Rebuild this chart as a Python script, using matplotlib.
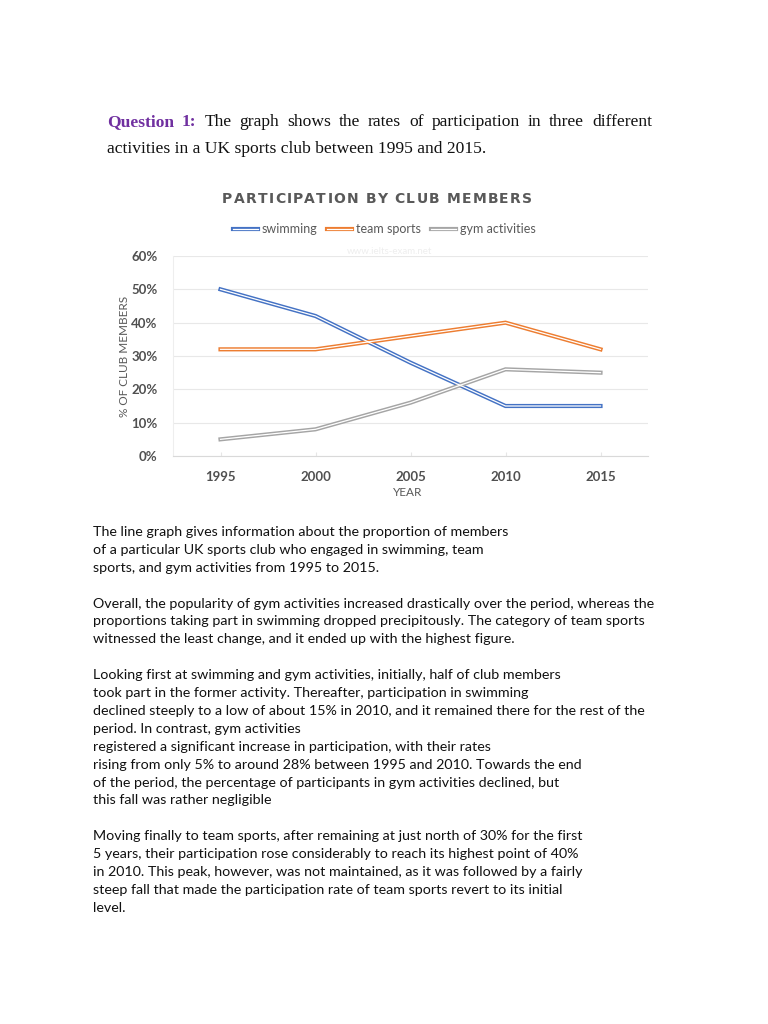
import matplotlib
matplotlib.use('Agg')
import matplotlib.pyplot as plt
from matplotlib.legend_handler import HandlerTuple

years = ['1995', '2000', '2005', '2010', '2015']
swimming = [50, 42, 28, 15, 15]
team_sports = [32, 32, 36, 40, 32]
gym_activities = [5, 8, 16, 26, 25]
y_ticks = [0, 10, 20, 30, 40, 50, 60]

title = 'PARTICIPATION BY CLUB MEMBERS'
question_line1 = 'The graph shows the rates of participation in three different'
question_line2 = 'activities in a UK sports club between 1995 and 2015.'

paragraphs = [
    ['The line graph gives information about the proportion of members',
     'of a particular UK sports club who engaged in swimming, team',
     'sports, and gym activities from 1995 to 2015.'],
    ['Overall, the popularity of gym activities increased drastically over the period, whereas the',
     'proportions taking part in swimming dropped precipitously. The category of team sports',
     'witnessed the least change, and it ended up with the highest figure.'],
    ['Looking first at swimming and gym activities, initially, half of club members',
     'took part in the former activity. Thereafter, participation in swimming',
     'declined steeply to a low of about 15% in 2010, and it remained there for the rest of the',
     'period. In contrast, gym activities',
     'registered a significant increase in participation, with their rates',
     'rising from only 5% to around 28% between 1995 and 2010. Towards the end',
     'of the period, the percentage of participants in gym activities declined, but',
     'this fall was rather negligible'],
    ['Moving finally to team sports, after remaining at just north of 30% for the first',
     '5 years, their participation rose considerably to reach its highest point of 40%',
     'in 2010. This peak, however, was not maintained, as it was followed by a fairly',
     'steep fall that made the participation rate of team sports revert to its initial',
     'level.'],
]

W, H = 768, 1024
fig = plt.figure(figsize=(W / 100, H / 100), dpi=100)
fig.patch.set_facecolor('white')


def fy(py):
    return 1 - py / H


def fx(px):
    return px / W


grey = '#595959'
renderer = fig.canvas.get_renderer()

# question heading, first line justified
serif = 'Liberation Serif'
qsize = 12.6
words = [('Question', True, '#7030A0'), ('1:', True, '#7030A0')] + \
        [(w, False, '#111111') for w in question_line1.split()]
objs = []
for w, b, c in words:
    t = fig.text(0, fy(122), w, fontsize=qsize, family=serif,
                 fontweight='bold' if b else 'normal', color=c, va='center')
    objs.append(t)
widths = [o.get_window_extent(renderer).width for o in objs]
x0, x1 = 107, 652
gap = (x1 - x0 - sum(widths)) / (len(objs) - 1)
x = x0
for o, wd in zip(objs, widths):
    o.set_x(fx(x))
    x += wd + gap
fig.text(fx(107), fy(149), question_line2, fontsize=qsize, family=serif,
         color='#111111', va='center')

# chart
ax = fig.add_axes([fx(173), fy(456), fx(648) - fx(173), (456 - 256) / H])
xs = range(len(years))
series = [(swimming, '#4472C4', 'swimming'),
          (team_sports, '#ED7D31', 'team sports'),
          (gym_activities, '#A5A5A5', 'gym activities')]
handles = []
for vals, col, name in series:
    l1, = ax.plot(xs, vals, color=col, lw=3.0, solid_joinstyle='miter', zorder=3)
    l2, = ax.plot(xs, vals, color='white', lw=0.9, solid_joinstyle='miter', zorder=4)
    handles.append((l1, l2))

ax.set_xlim(-0.5, len(years) - 0.5)
ax.set_ylim(0, 60)
ax.set_yticks(y_ticks)
ax.set_yticklabels([f'{v}%' for v in y_ticks])
ax.set_xticks(list(xs))
ax.set_xticklabels(years)
ax.grid(axis='y', color='#E8E8E8', lw=0.8)
ax.set_axisbelow(True)
for s in ['right', 'top']:
    ax.spines[s].set_visible(False)
ax.spines['left'].set_color('#EEEEEE')
ax.spines['bottom'].set_color('#D9D9D9')
ax.tick_params(axis='y', length=0, colors='#505050', pad=11)
ax.tick_params(axis='x', length=3, direction='in', color='#E6E6E6',
               labelcolor='#505050', pad=11)
for lab in ax.get_xticklabels() + ax.get_yticklabels():
    lab.set_fontweight('bold')
    lab.set_fontsize(9.5)
    lab.set_family('Lato')

# letter-spaced title
tobjs = [fig.text(0, fy(199), ch, fontsize=10, fontweight='bold', color=grey,
                  va='center', family='DejaVu Sans') for ch in title]
cw = [o.get_window_extent(renderer).width if ch != ' ' else 4.5
      for o, ch in zip(tobjs, title)]
track = (310 - sum(cw)) / (len(title) - 1)
x = 222
for o, wd in zip(tobjs, cw):
    o.set_x(fx(x))
    x += wd + track

fig.text(fx(125), fy(356), '% OF CLUB MEMBERS', rotation=90, fontsize=8.5,
         color=grey, ha='center', va='center', family='Lato')
fig.text(fx(408), fy(492), 'YEAR', fontsize=8.5, color=grey, ha='center',
         va='center', family='Lato')
fig.text(fx(390), fy(252), 'www.ielts-exam.net', fontsize=7, color='#EEEEEE',
         ha='center', va='center', family='Lato')

fig.legend(handles, [s[2] for s in series], handler_map={tuple: HandlerTuple(ndivide=1)},
           loc='center', bbox_to_anchor=(fx(384), fy(229)), ncol=3, frameon=False,
           prop={'family': 'Lato', 'size': 9}, labelcolor=grey, handlelength=2.0,
           handletextpad=0.3, columnspacing=0.8)

# body text
y = 532
step = 17.9
for para in paragraphs:
    for line in para:
        fig.text(fx(93), fy(y), line, fontsize=10.3, family='Lato',
                 color='#111111', va='center')
        y += step
    y += step

fig.savefig('out.png', dpi=100, facecolor='white')
